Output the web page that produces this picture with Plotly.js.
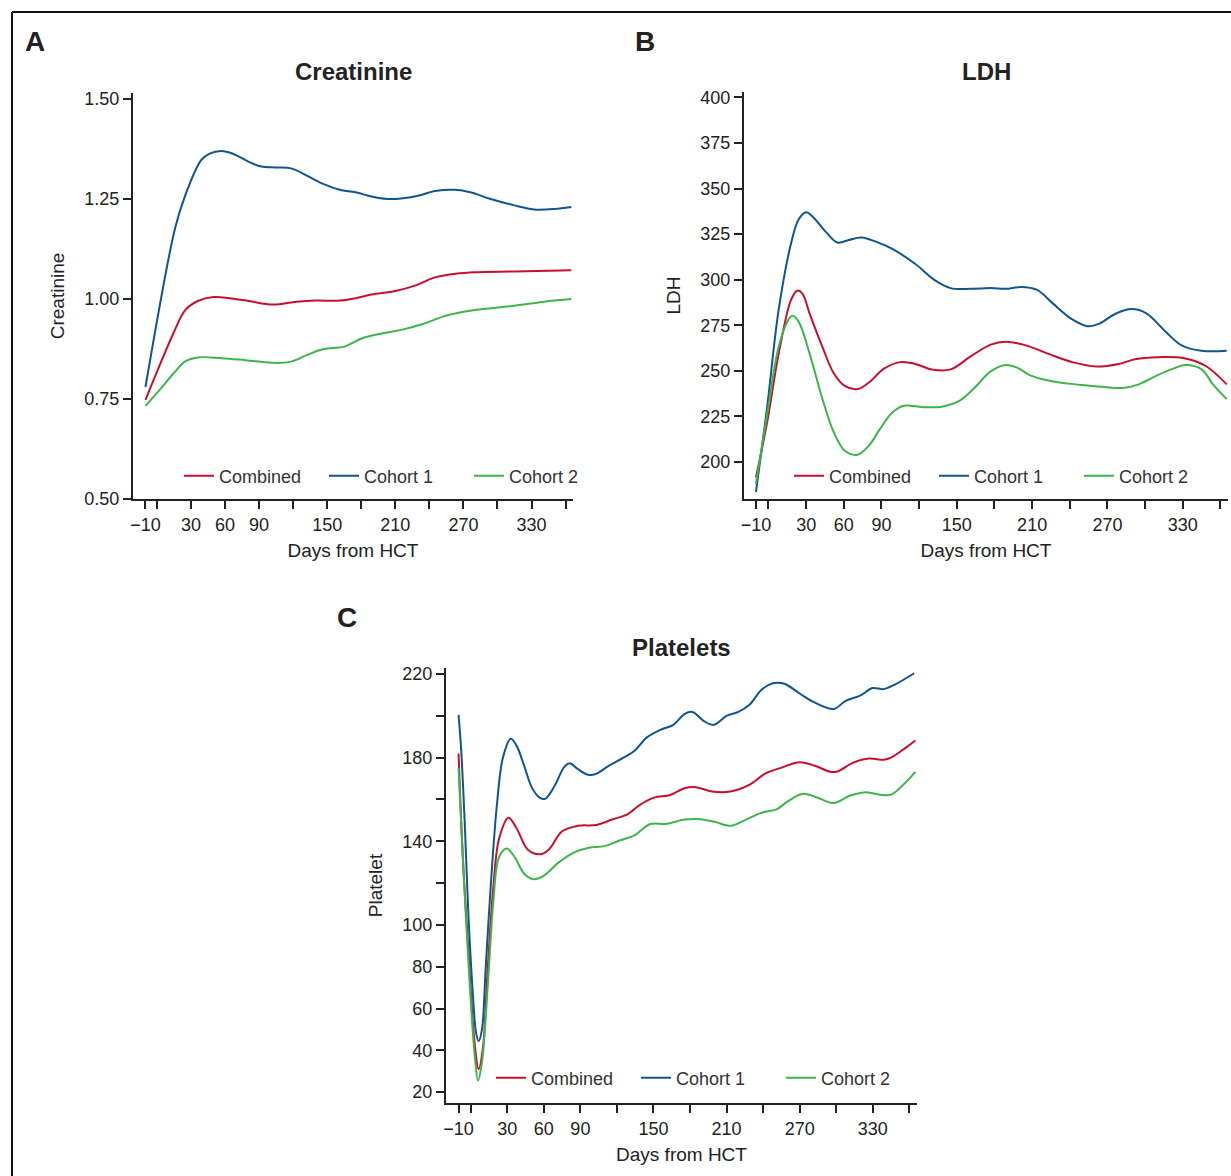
<!DOCTYPE html>
<html>
<head>
<meta charset="utf-8">
<script src="https://cdn.plot.ly/plotly-3.0.1.min.js"></script>
<style>
  html, body { margin: 0; padding: 0; background: #fff; }
  #chart { width: 1231px; height: 1176px; }
</style>
</head>
<body>
<div id="chart"></div>
<script>
// ---------------- DATA ----------------
var seriesNames = ["Combined", "Cohort 1", "Cohort 2"];
var panelTitles = ["Creatinine", "LDH", "Platelets"];
var panelLetters = ["A", "B", "C"];
var yTitles = ["Creatinine", "LDH", "Platelet"];
var xTitle = "Days from HCT";

var xTickVals = [-10, 0, 30, 60, 90, 120, 150, 180, 210, 240, 270, 300, 330, 360];
var xTickText = ["\u221210", "", "30", "60", "90", "", "150", "", "210", "", "270", "", "330", ""];

var creatYTickVals = [0.50, 0.75, 1.00, 1.25, 1.50];
var creatYTickText = ["0.50", "0.75", "1.00", "1.25", "1.50"];
var ldhYTickVals = [200, 225, 250, 275, 300, 325, 350, 375, 400];
var ldhYTickText = ["200", "225", "250", "275", "300", "325", "350", "375", "400"];
var pltYTickVals = [20, 40, 60, 80, 100, 120, 140, 160, 180, 200, 220];
var pltYTickText = ["20", "40", "60", "80", "100", "", "140", "", "180", "", "220"];

// Panel A: Creatinine
var creatCombinedDays = [-10, 1, 15, 25, 36, 50, 64, 81, 102, 123, 140, 161, 175, 189, 210, 228, 245, 263, 280, 315, 365];
var creatCombinedVals = [0.748, 0.824, 0.917, 0.972, 0.995, 1.005, 1.002, 0.995, 0.986, 0.993, 0.996, 0.996, 1.002, 1.011, 1.020, 1.034, 1.054, 1.063, 1.067, 1.069, 1.072];
var creatCohort1Days = [-10, 16, 25, 39, 46, 57, 67, 81, 92, 105, 119, 133, 147, 161, 175, 189, 203, 217, 231, 245, 263, 276, 294, 315, 332, 350, 365];
var creatCohort1Vals = [0.780, 1.176, 1.259, 1.347, 1.363, 1.370, 1.363, 1.343, 1.331, 1.329, 1.326, 1.307, 1.287, 1.273, 1.267, 1.256, 1.250, 1.252, 1.259, 1.270, 1.273, 1.267, 1.250, 1.234, 1.224, 1.225, 1.230];
var creatCohort2Days = [-10, 4, 15, 25, 36, 57, 78, 105, 119, 133, 147, 165, 182, 200, 217, 235, 252, 270, 287, 315, 343, 365];
var creatCohort2Vals = [0.733, 0.778, 0.815, 0.844, 0.854, 0.852, 0.847, 0.840, 0.844, 0.861, 0.875, 0.881, 0.903, 0.915, 0.924, 0.938, 0.956, 0.968, 0.975, 0.983, 0.994, 1.000];

// Panel B: LDH
var ldhCombinedDays = [-10, -1, 8, 18, 23, 27, 33, 43, 52, 61, 71, 80, 92, 105, 117, 130, 145, 161, 177, 189, 205, 223, 242, 261, 279, 292, 310, 332, 348, 365];
var ldhCombinedVals = [191.5, 222, 259, 289, 294, 292.4, 281, 263, 248.7, 241.6, 240, 243.6, 251.2, 254.8, 253.8, 250.8, 250.8, 257.9, 264.4, 266, 264, 259.3, 254.8, 252.4, 253.8, 256.4, 257.5, 256.8, 252.8, 242.6];
var ldhCohort1Days = [-10, -1, 8, 18, 24, 30, 36, 46, 55, 64, 74, 86, 99, 117, 133, 145, 161, 177, 189, 201, 214, 226, 242, 254, 264, 276, 289, 301, 317, 329, 345, 365];
var ldhCohort1Vals = [183.5, 230.5, 283, 320, 333, 337, 334, 326, 320.4, 321.8, 323.2, 320.8, 316.8, 308.6, 299.5, 295.4, 295, 295.4, 295, 296, 294.4, 287.3, 278.2, 274.5, 276.1, 281.2, 283.9, 281.6, 271, 264, 261, 261];
var ldhCohort2Days = [-10, -1, 8, 15, 19, 24, 33, 43, 52, 61, 71, 80, 89, 99, 108, 124, 139, 152, 164, 177, 189, 198, 208, 223, 239, 254, 270, 282, 295, 310, 323, 332, 345, 354, 365];
var ldhCohort2Vals = [188, 226.4, 263, 277, 280.2, 277, 258.9, 234.5, 216.3, 206, 204, 209, 218.3, 227.4, 230.9, 230, 230.5, 233.5, 240.6, 249.7, 253.2, 251.8, 247.7, 244.7, 243, 242, 241, 240.6, 242.6, 247.7, 251.4, 253.2, 250.8, 242.6, 234.5];

// Panel C: Platelets
var pltCombinedDays = [-10, -6.5, -2, 3, 6.5, 10, 14, 18.6, 23.3, 31, 37.4, 47, 57, 64, 75, 88, 103, 116, 129, 138, 151, 163, 176, 185, 198, 213, 229, 242, 254, 270, 283, 295, 301, 314, 327, 339, 345, 356, 365];
var pltCombinedVals = [182, 132.5, 88.5, 44.6, 31, 41, 79.7, 118.4, 141.3, 151.3, 146.5, 136, 133.8, 136, 144.8, 147.4, 147.8, 150.4, 153, 157.1, 161, 162, 165.5, 165.9, 163.8, 163.8, 167.1, 172.5, 175, 177.8, 176, 173.3, 173.4, 177.6, 179.6, 179, 180, 184.3, 188.2];
var pltCohort1Days = [-10, -8, -5, -2, 1.3, 4.5, 6.5, 9.2, 12.3, 17, 21.7, 26.4, 32.8, 37.4, 43.7, 50, 56.3, 61, 69, 76.7, 81.4, 87.7, 97, 103.4, 113, 125.4, 134.8, 144.3, 156.8, 166.3, 175.7, 182, 191.4, 199.3, 210.3, 219.7, 229, 238.5, 248, 257.4, 270, 282.5, 298, 307.7, 320, 329.7, 339, 348.5, 364];
var pltCohort1Vals = [200.5, 185.2, 150, 106, 71, 48, 44.4, 49.9, 79.7, 123.7, 158.8, 180, 189, 186, 176.4, 165.9, 161, 160.3, 166.7, 175.5, 177.3, 174.6, 171.7, 172.4, 176, 180, 183.4, 189.6, 193.6, 195.7, 201, 201.9, 197.5, 195.7, 200.1, 201.9, 205.4, 212.4, 215.6, 215.4, 210.7, 206.3, 203.3, 207.2, 209.8, 213.3, 212.8, 215.1, 220.4];
var pltCohort2Days = [-10, -6.5, -2, 3, 6, 9.2, 14, 18.6, 23.3, 29.6, 36, 43.7, 51.6, 59.4, 72, 84.6, 97, 109.7, 122.3, 134.8, 147.4, 160, 175.7, 188.3, 200.8, 213.4, 226, 238.5, 251, 260.5, 273, 285.7, 298, 311, 323, 336, 345, 356, 365];
var pltCohort2Vals = [175, 132.5, 83.3, 39.3, 25.5, 34.1, 71, 111.4, 132.5, 136.5, 132.5, 124.6, 121.8, 123.3, 129.8, 134.6, 136.9, 137.7, 140.4, 143, 148.3, 148.3, 150.4, 150.6, 149.2, 147.4, 150.4, 153.6, 155.3, 159.2, 162.7, 160.6, 158.3, 161.8, 163.4, 162.3, 162.3, 167.6, 173.2];

// ---------------- STYLE / LAYOUT ----------------
var W = 1231, H = 1176;
var colors = ["#c8102e", "#0f5591", "#3db54a"];
var tickFont = {family: "Liberation Sans, Arial, sans-serif", size: 18, color: "#222"};
var axisTitleFont = {family: "Liberation Sans Narrow, Arial Narrow, Liberation Sans, sans-serif", size: 19, color: "#222"};
var legendFont = {family: "Liberation Sans, Arial, sans-serif", size: 18, color: "#333"};

function px(x) { return x / W; }
function py(y) { return 1 - y / H; }

var panels = [
  {days: [creatCombinedDays, creatCohort1Days, creatCohort2Days], vals: [creatCombinedVals, creatCohort1Vals, creatCohort2Vals],
   box: [133, 573, 93, 499], yrange: [0.5, 1.515], ytv: creatYTickVals, ytt: creatYTickText, xrange: [-21, 366.5],
   legendX: 179, legendY: 476, titleY: 71, letter: [35, 42]},
  {days: [ldhCombinedDays, ldhCohort1Days, ldhCohort2Days], vals: [ldhCombinedVals, ldhCohort1Vals, ldhCohort2Vals],
   box: [744, 1228, 92, 499], yrange: [179.7, 403], ytv: ldhYTickVals, ytt: ldhYTickText, xrange: [-19.5, 366],
   legendX: 789, legendY: 476, titleY: 71, letter: [645, 42]},
  {days: [pltCombinedDays, pltCohort1Days, pltCohort2Days], vals: [pltCombinedVals, pltCohort1Vals, pltCohort2Vals],
   box: [446, 917, 668, 1103], yrange: [14.8, 222.9], ytv: pltYTickVals, ytt: pltYTickText, xrange: [-20.3, 366.3],
   legendX: 491, legendY: 1078, titleY: 647, letter: [347, 617]}
];

var traces = [];
var layout = {
  width: W, height: H,
  margin: {l: 0, r: 0, t: 0, b: 0, pad: 0},
  paper_bgcolor: "#fff", plot_bgcolor: "rgba(0,0,0,0)",
  showlegend: true,
  annotations: [],
  shapes: [
    {type: "line", xref: "paper", yref: "paper", x0: px(12), x1: 1, y0: py(12), y1: py(12), line: {color: "#111", width: 2}},
    {type: "line", xref: "paper", yref: "paper", x0: px(12), x1: px(12), y0: py(12), y1: 0, line: {color: "#111", width: 2}}
  ]
};

panels.forEach(function (p, i) {
  var n = i + 1;
  var xa = "x" + (n === 1 ? "" : n), ya = "y" + (n === 1 ? "" : n);
  var xKey = "xaxis" + (n === 1 ? "" : n), yKey = "yaxis" + (n === 1 ? "" : n);
  var legKey = "legend" + (n === 1 ? "" : n);
  for (var s = 0; s < 3; s++) {
    traces.push({
      type: "scatter", mode: "lines",
      x: p.days[s], y: p.vals[s],
      name: seriesNames[s],
      xaxis: xa, yaxis: ya, legend: legKey,
      line: {color: colors[s], width: 2, shape: "spline", smoothing: 1},
      hoverinfo: "x+y+name"
    });
  }
  layout[xKey] = {
    domain: [px(p.box[0]), px(p.box[1])], anchor: ya, range: p.xrange,
    tickmode: "array", tickvals: xTickVals, ticktext: xTickText,
    ticks: "outside", ticklen: 8, tickwidth: 1.6, tickcolor: "#222",
    showline: true, linecolor: "#222", linewidth: 2.2, showgrid: false, zeroline: false,
    tickfont: tickFont,
    title: {text: xTitle, font: axisTitleFont, standoff: 10}
  };
  layout[yKey] = {
    domain: [py(p.box[3]), py(p.box[2])], anchor: xa, range: p.yrange,
    tickmode: "array", tickvals: p.ytv, ticktext: p.ytt,
    ticks: "outside", ticklen: 8, tickwidth: 1.6, tickcolor: "#222",
    showline: true, linecolor: "#222", linewidth: 2.2, showgrid: false, zeroline: false,
    tickfont: tickFont,
    title: {text: yTitles[i], font: axisTitleFont, standoff: 15}
  };
  layout[legKey] = {
    orientation: "h", x: px(p.legendX), xanchor: "left", y: py(p.legendY), yanchor: "middle",
    xref: "paper", yref: "paper",
    bgcolor: "rgba(0,0,0,0)", borderwidth: 0, font: legendFont,
    entrywidth: 100, entrywidthmode: "pixels", traceorder: "normal"
  };
  layout.annotations.push({
    text: "<b>" + panelTitles[i] + "</b>", xref: "paper", yref: "paper",
    x: px((p.box[0] + p.box[1]) / 2), y: py(p.titleY), xanchor: "center", yanchor: "middle",
    showarrow: false, font: {family: "Liberation Sans, Arial, sans-serif", size: 24, color: "#222"}
  });
  layout.annotations.push({
    text: "<b>" + panelLetters[i] + "</b>", xref: "paper", yref: "paper",
    x: px(p.letter[0]), y: py(p.letter[1]), xanchor: "center", yanchor: "middle",
    showarrow: false, font: {family: "Liberation Sans, Arial, sans-serif", size: 28, color: "#222"}
  });
});

Plotly.newPlot("chart", traces, layout, {displayModeBar: false, staticPlot: false});
</script>
</body>
</html>
